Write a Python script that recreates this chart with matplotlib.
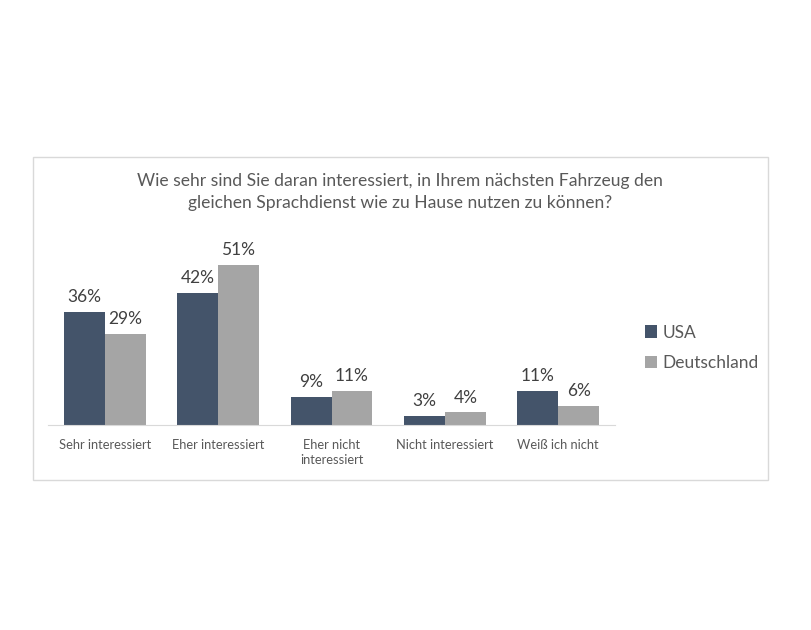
import numpy as np
import matplotlib
matplotlib.use("Agg")
import matplotlib.pyplot as plt
from matplotlib.patches import Rectangle

categories = ["Sehr interessiert", "Eher interessiert", "Eher nicht\ninteressiert",
              "Nicht interessiert", "Weiß ich nicht"]
usa = [36, 42, 9, 3, 11]
deutschland = [29, 51, 11, 4, 6]
series_names = ["USA", "Deutschland"]
title = ("Wie sehr sind Sie daran interessiert, in Ihrem nächsten Fahrzeug den\n"
         "gleichen Sprachdienst wie zu Hause nutzen zu können?")

plt.rcParams['font.family'] = ['Lato', 'DejaVu Sans']

W, H = 812, 630
fig = plt.figure(figsize=(W / 100, H / 100), dpi=100)
fig.patch.set_facecolor("white")

# chart frame
fig.patches.append(Rectangle((33 / W, 1 - 480 / H), (768 - 33) / W, (480 - 157) / H,
                             transform=fig.transFigure, fill=False,
                             edgecolor="#D9D9D9", lw=1))

ax = fig.add_axes([48 / W, 1 - 425 / H, (615 - 48) / W, (425 - 237) / H])
x = np.arange(len(categories))
bw = 0.36
c_usa = "#44546A"
c_de = "#A5A5A5"
b1 = ax.bar(x - bw / 2, usa, bw, color=c_usa, label=series_names[0])
b2 = ax.bar(x + bw / 2, deutschland, bw, color=c_de, label=series_names[1])

for bars, vals in ((b1, usa), (b2, deutschland)):
    for b, v in zip(bars, vals):
        ax.annotate(f"{v}%", (b.get_x() + b.get_width() / 2, v),
                    xytext=(0, 5), textcoords="offset points",
                    ha="center", va="bottom", fontsize=12.5, color="#404040",
                    annotation_clip=False)

ax.set_xlim(-0.5, len(categories) - 0.5)
ax.set_ylim(0, 60)
ax.set_yticks([])
ax.set_xticks(x)
ax.set_xticklabels(categories, fontsize=9.3, color="#595959", linespacing=1.3)
ax.tick_params(axis="x", length=0, pad=10)
for s in ("top", "right", "left"):
    ax.spines[s].set_visible(False)
ax.spines["bottom"].set_color("#D9D9D9")

fig.text(400 / W, 1 - 192 / H, title, ha="center", va="center",
         fontsize=12.6, color="#595959", linespacing=1.4)

fig.legend(handles=[b1, b2], loc="center left",
           bbox_to_anchor=(629 / W, 1 - 348 / H), frameon=False,
           fontsize=12.5, labelcolor="#595959", handlelength=0.7,
           handleheight=0.7, handletextpad=0.35, labelspacing=0.85)

fig.savefig("out.png", dpi=100)
